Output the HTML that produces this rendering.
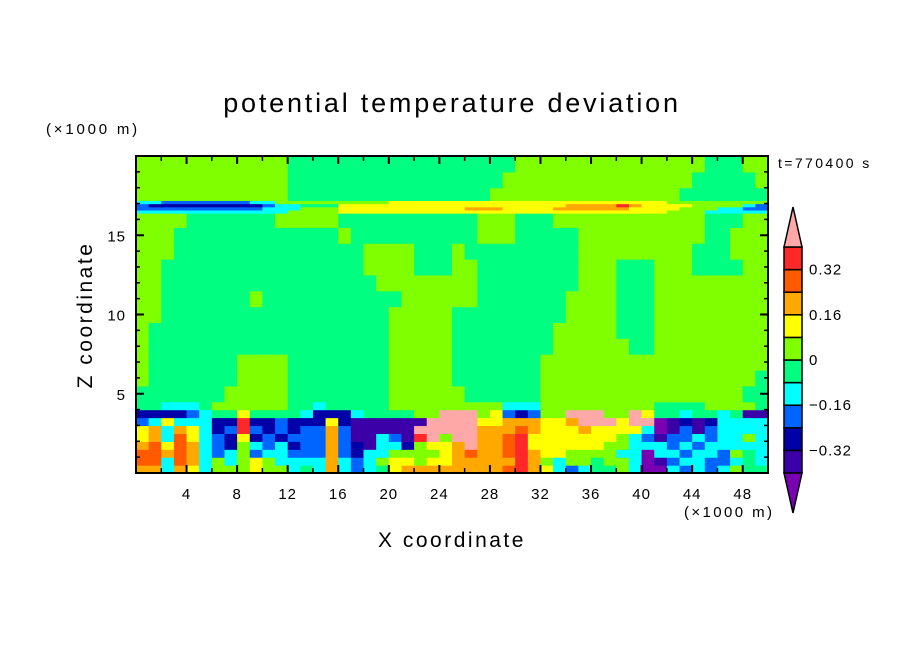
<!DOCTYPE html>
<html><head><meta charset="utf-8"><style>
html,body{margin:0;padding:0;background:#fff;}
svg{display:block;font-family:"Liberation Sans","DejaVu Sans",sans-serif;}
</style></head><body>
<svg id="chart" width="904" height="654" viewBox="0 0 904 654">
<rect width="904" height="654" fill="#fff"/>
<text x="452" y="112" font-size="27" letter-spacing="2.8" text-anchor="middle">potential temperature deviation</text>
<text x="46" y="134" font-size="15" letter-spacing="2.8">(×1000 m)</text>
<text x="778" y="168" font-size="14" letter-spacing="2.4">t=770400 s</text>
<g id="cells"></g>
<g id="axes"></g>
<g id="cbar"></g>
<text x="684" y="517" font-size="15" letter-spacing="2.4">(×1000 m)</text>
<text x="452" y="547" font-size="21" letter-spacing="2.5" text-anchor="middle">X coordinate</text>
<text transform="translate(92,315) rotate(-90)" font-size="21" letter-spacing="2.5" text-anchor="middle">Z coordinate</text>
</svg>
<script>
// level codes -> value bin
const levelCodes = ["P","I","N","B","C","G","L","Y","O","R","D","K"];
const levelValues = [-0.44,-0.36,-0.28,-0.2,-0.12,-0.04,0.04,0.12,0.2,0.28,0.36,0.44];
const levelColors = ["#7a00b4","#3c00a8","#0000a8","#0064ff","#00ffff","#00ff80","#80ff00","#ffff00","#ffa800","#ff5a00","#ff2828","#ffa8a8"];
const cbarLabels = ["0.32","0.16","0","−0.16","−0.32"];
const cbarLabelValues = [0.32,0.16,0,-0.16,-0.32];
const xTicks = [4,8,12,16,20,24,28,32,36,40,44,48];
const yTicks = [5,10,15];
const zEdges = [0,0.5,1,1.5,2,2.5,3,3.5,4,4.5,5.5,6.5,7.5,8.5,9.5,10.5,11.5,12.5,13.5,14.5,15.5,16.4,16.6,16.8,17,17.2,18,19,20];
// rows bottom->top, 50 columns (1 km each), tokens: code + optional run length
const fieldRows = [
"O O C O Y C L L L Y L L C G C O C B C G Y O O O O O O O O R D O Y C B C G G L C P P C B C B C L G G",
"R R C R O C L C L Y L C C C C O C B C L Y Y L Y Y O O O O O D O L C L L G L L C P I B C C B B C G C",
"R R O R O C B C L B C C B B B O B N C C L L L L Y O R O O R D O Y Y L L L L C C P C C B C C B L G C",
"O R Y R O C B N L C B C N B B O B N I C C N L Y Y O K O O R D Y Y Y Y Y Y L L C C C B C B C C C C C",
"Y O C R Y C B N Y N B N B B B O B I I C B I D K L K K O O R D Y Y Y Y Y Y Y L C B I B B C B C C L C",
"Y O C O Y C N B D B N B N B B O B I I I I I K K K K K O O O R O Y Y Y O Y Y Y Y C P I B I B C C C C",
"B C Y C C C N N D N N B N N N Y N I I I I I I K K K K Y Y O O O Y Y O K K K Y K K P I N I N C C C C",
"N N N N B C G G Y G G G G C N N N C G G G G L L K K K L Y B N B L L K K K L L K Y G G C G G C G I I",
"G G C C C G L L L L L L G G C G G G G G L L L L L L L L L C C C L L L L L L L L L G G G G L L L L G",
"G7 L5 G8 L6 G6 L16 G2",
"L1 G7 L4 G8 L5 G7 L17 G1",
"L1 G7 L4 G8 L5 G7 L18",
"L1 G19 L5 G8 L6 G2 L9",
"L1 G19 L5 G8 L5 G3 L9",
"L2 G18 L5 G9 L4 G3 L9",
"L2 G7 L1 G11 L6 G7 L4 G3 L9",
"L2 G17 L8 G8 L3 G3 L9",
"L2 G16 L4 G3 L2 G8 L3 G3 L3 G4 L2",
"L3 G15 L4 G3 L1 G9 L9 G3 L3",
"L3 G13 L1 G10 L3 G5 L10 G2 L3",
"L4 G7 L5 G11 L3 G3 L12 G3 L2",
"C12 L4 Y26 L3 C5",
"B10 C3 L3 Y10 O3 Y4 O6 Y4 L3 C2 B2",
"B1 N9 B1 C2 G3 Y18 O4 D1 O1 Y4 L4 C1 B1",
"C2 B7 C2 L9 Y22 L8",
"L12 G16 L15 G7",
"L12 G17 L15 G5 L1",
"L12 G18 L15 G3 L2"
];
const NS="http://www.w3.org/2000/svg";
const PX0=136, PX1=768, PY0=473, PY1=156, XMAX=50, ZMAX=20;
function sx(km){return PX0+(PX1-PX0)*km/XMAX;}
function sy(z){return PY0-(PY0-PY1)*z/ZMAX;}
function colorFor(v){
  let best=0,bd=1e9;
  levelValues.forEach((lv,i)=>{const d=Math.abs(lv-v);if(d<bd){bd=d;best=i;}});
  return levelColors[best];
}
function expand(row){
  const out=[];
  row.trim().split(/\s+/).forEach(t=>{
    const c=t[0]; const n=t.length>1?parseInt(t.slice(1)):1;
    for(let i=0;i<n;i++) out.push(levelValues[levelCodes.indexOf(c)]);
  });
  return out;
}
const cells=document.getElementById('cells');
fieldRows.forEach((row,ri)=>{
  const vals=expand(row);
  const y0=sy(zEdges[ri+1]), y1=sy(zEdges[ri]);
  vals.forEach((v,ci)=>{
    const r=document.createElementNS(NS,'rect');
    const x0=sx(ci), x1=sx(ci+1);
    r.setAttribute('x',x0.toFixed(2));
    r.setAttribute('y',y0.toFixed(2));
    r.setAttribute('width',(x1-x0+0.6).toFixed(2));
    r.setAttribute('height',(y1-y0+0.6).toFixed(2));
    r.setAttribute('fill',colorFor(v));
    
    
    cells.appendChild(r);
  });
});
const axes=document.getElementById('axes');
function line(x1,y1,x2,y2,w,name){
  const l=document.createElementNS(NS,'line');
  l.setAttribute('x1',x1);l.setAttribute('y1',y1);l.setAttribute('x2',x2);l.setAttribute('y2',y2);
  l.setAttribute('stroke','#000');l.setAttribute('stroke-width',w);
  
  
  axes.appendChild(l);
}
function text(x,y,s,size,anchor,name,parent){
  const t=document.createElementNS(NS,'text');
  t.setAttribute('x',x);t.setAttribute('y',y);t.setAttribute('font-size',size);
  t.setAttribute('text-anchor',anchor);t.setAttribute('letter-spacing','1');t.textContent=s;
  
  
  (parent||axes).appendChild(t);
}
const frame=document.createElementNS(NS,'rect');
frame.setAttribute('x',PX0);frame.setAttribute('y',PY1);
frame.setAttribute('width',PX1-PX0);frame.setAttribute('height',PY0-PY1);
frame.setAttribute('fill','none');frame.setAttribute('stroke','#000');frame.setAttribute('stroke-width',2);


axes.appendChild(frame);
for(let k=2;k<XMAX;k+=2){
  const major=k%4===0, len=major?8:5;
  line(sx(k),PY0,sx(k),PY0-len,major?2:1.5,'x-tick');
  line(sx(k),PY1,sx(k),PY1+len,major?2:1.5,'x-tick-top');
}
for(let z=1;z<ZMAX;z++){
  const major=z%5===0, len=major?8:4;
  line(PX0,sy(z),PX0+len,sy(z),major?2:1.5,'y-tick');
  line(PX1,sy(z),PX1-len,sy(z),major?2:1.5,'y-tick-right');
}
xTicks.forEach(k=>text(sx(k),499,String(k),15,'middle','x-tick-label'));
yTicks.forEach(z=>text(126,sy(z)+6,String(z),15,'end','y-tick-label'));
// colorbar
const cb=document.getElementById('cbar');
const CBX=784, CBW=18, CBT=247, CBB=473, VTOP=0.4, VBOT=-0.4;
function cy(v){return CBT+(CBB-CBT)*(VTOP-v)/(VTOP-VBOT);}
for(let i=1;i<levelValues.length-1;i++){
  const v=levelValues[i];
  const r=document.createElementNS(NS,'rect');
  r.setAttribute('x',CBX);r.setAttribute('y',cy(v+0.04));
  r.setAttribute('width',CBW);r.setAttribute('height',cy(v-0.04)-cy(v+0.04));
  r.setAttribute('fill',levelColors[i]);r.setAttribute('stroke','#000');r.setAttribute('stroke-width',1.5);
  
  
  cb.appendChild(r);
}
const up=document.createElementNS(NS,'polygon');
up.setAttribute('points',`${CBX},${CBT} ${CBX+CBW/2},207 ${CBX+CBW},${CBT}`);
up.setAttribute('fill',levelColors[11]);up.setAttribute('stroke','#000');up.setAttribute('stroke-width',1.5);


cb.appendChild(up);
const dn=document.createElementNS(NS,'polygon');
dn.setAttribute('points',`${CBX},${CBB} ${CBX+CBW/2},513 ${CBX+CBW},${CBB}`);
dn.setAttribute('fill',levelColors[0]);dn.setAttribute('stroke','#000');dn.setAttribute('stroke-width',1.5);


cb.appendChild(dn);
cbarLabels.forEach((s,i)=>text(809,cy(cbarLabelValues[i])+5,s,15,'start','colorbar-label',cb));
</script>
</body></html>
